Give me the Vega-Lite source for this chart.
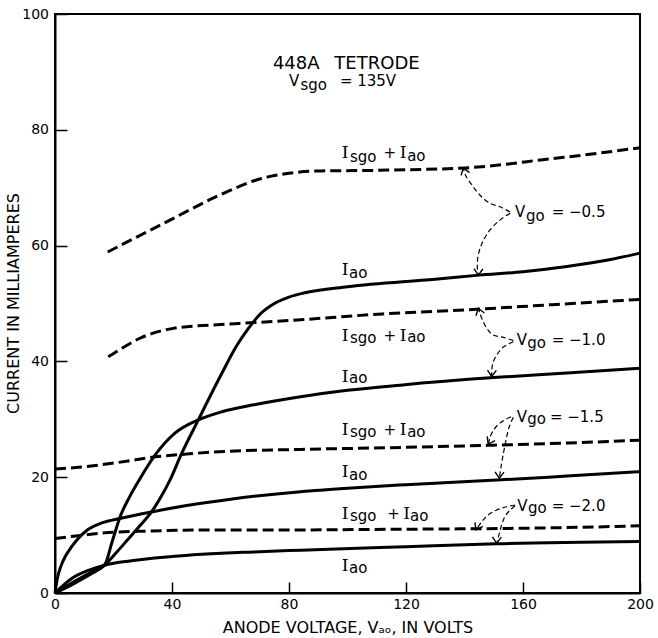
{
  "$schema": "https://vega.github.io/schema/vega-lite/v6.json",
  "width": 585,
  "height": 579,
  "autosize": "none",
  "padding": {"left": 55, "top": 14, "right": 18, "bottom": 45},
  "background": "white",
  "config": {"view": {"stroke": "black", "strokeWidth": 2}, "font": "DejaVu Sans"},
  "datasets": {
    "curves": [
      {"g": "-0.5", "k": "I", "v": 0, "i": 0}, {"g": "-0.5", "k": "I", "v": 6, "i": 1.5}, {"g": "-0.5", "k": "I", "v": 12, "i": 3.2}, {"g": "-0.5", "k": "I", "v": 17, "i": 4.8}, {"g": "-0.5", "k": "I", "v": 21, "i": 7.0}, {"g": "-0.5", "k": "I", "v": 25, "i": 9.3}, {"g": "-0.5", "k": "I", "v": 29, "i": 11.6}, {"g": "-0.5", "k": "I", "v": 33, "i": 14.0}, {"g": "-0.5", "k": "I", "v": 36, "i": 16.4}, {"g": "-0.5", "k": "I", "v": 39.3, "i": 19.5}, {"g": "-0.5", "k": "I", "v": 43.3, "i": 24.1}, {"g": "-0.5", "k": "I", "v": 49, "i": 29.9}, {"g": "-0.5", "k": "I", "v": 57, "i": 37.9}, {"g": "-0.5", "k": "I", "v": 62, "i": 42.6}, {"g": "-0.5", "k": "I", "v": 66, "i": 45.6}, {"g": "-0.5", "k": "I", "v": 70, "i": 48.1}, {"g": "-0.5", "k": "I", "v": 75, "i": 50.0}, {"g": "-0.5", "k": "I", "v": 80, "i": 51.1}, {"g": "-0.5", "k": "I", "v": 85, "i": 51.8}, {"g": "-0.5", "k": "I", "v": 100, "i": 52.9}, {"g": "-0.5", "k": "I", "v": 130, "i": 54.2}, {"g": "-0.5", "k": "I", "v": 145, "i": 54.9}, {"g": "-0.5", "k": "I", "v": 160, "i": 55.5}, {"g": "-0.5", "k": "I", "v": 175, "i": 56.4}, {"g": "-0.5", "k": "I", "v": 190, "i": 57.6}, {"g": "-0.5", "k": "I", "v": 200, "i": 58.7},
      {"g": "-1.0", "k": "I", "v": 0, "i": 0}, {"g": "-1.0", "k": "I", "v": 6, "i": 1.8}, {"g": "-1.0", "k": "I", "v": 12, "i": 3.5}, {"g": "-1.0", "k": "I", "v": 17, "i": 4.9}, {"g": "-1.0", "k": "I", "v": 19.5, "i": 8.8}, {"g": "-1.0", "k": "I", "v": 22.2, "i": 13.1}, {"g": "-1.0", "k": "I", "v": 25.5, "i": 16.6}, {"g": "-1.0", "k": "I", "v": 29, "i": 19.7}, {"g": "-1.0", "k": "I", "v": 34.2, "i": 23.8}, {"g": "-1.0", "k": "I", "v": 41, "i": 27.6}, {"g": "-1.0", "k": "I", "v": 49, "i": 29.9}, {"g": "-1.0", "k": "I", "v": 57, "i": 31.3}, {"g": "-1.0", "k": "I", "v": 68, "i": 32.5}, {"g": "-1.0", "k": "I", "v": 84, "i": 33.9}, {"g": "-1.0", "k": "I", "v": 100, "i": 35.0}, {"g": "-1.0", "k": "I", "v": 118, "i": 35.9}, {"g": "-1.0", "k": "I", "v": 150, "i": 37.2}, {"g": "-1.0", "k": "I", "v": 175, "i": 38.0}, {"g": "-1.0", "k": "I", "v": 200, "i": 38.8},
      {"g": "-1.5", "k": "I", "v": 0, "i": 0}, {"g": "-1.5", "k": "I", "v": 0.8, "i": 2.5}, {"g": "-1.5", "k": "I", "v": 2, "i": 4.6}, {"g": "-1.5", "k": "I", "v": 3.5, "i": 6.3}, {"g": "-1.5", "k": "I", "v": 5.7, "i": 8.0}, {"g": "-1.5", "k": "I", "v": 8.5, "i": 9.7}, {"g": "-1.5", "k": "I", "v": 11.4, "i": 11.0}, {"g": "-1.5", "k": "I", "v": 16, "i": 12.1}, {"g": "-1.5", "k": "I", "v": 22.5, "i": 12.9}, {"g": "-1.5", "k": "I", "v": 33, "i": 14.0}, {"g": "-1.5", "k": "I", "v": 45, "i": 15.1}, {"g": "-1.5", "k": "I", "v": 60, "i": 16.2}, {"g": "-1.5", "k": "I", "v": 84, "i": 17.5}, {"g": "-1.5", "k": "I", "v": 100, "i": 18.1}, {"g": "-1.5", "k": "I", "v": 120, "i": 18.7}, {"g": "-1.5", "k": "I", "v": 151, "i": 19.5}, {"g": "-1.5", "k": "I", "v": 175, "i": 20.2}, {"g": "-1.5", "k": "I", "v": 200, "i": 20.95},
      {"g": "-2.0", "k": "I", "v": 0, "i": 0}, {"g": "-2.0", "k": "I", "v": 3, "i": 1.4}, {"g": "-2.0", "k": "I", "v": 5.7, "i": 2.5}, {"g": "-2.0", "k": "I", "v": 11.4, "i": 3.9}, {"g": "-2.0", "k": "I", "v": 17, "i": 4.8}, {"g": "-2.0", "k": "I", "v": 25, "i": 5.5}, {"g": "-2.0", "k": "I", "v": 40, "i": 6.3}, {"g": "-2.0", "k": "I", "v": 68, "i": 7.1}, {"g": "-2.0", "k": "I", "v": 84, "i": 7.4}, {"g": "-2.0", "k": "I", "v": 120, "i": 8.0}, {"g": "-2.0", "k": "I", "v": 151, "i": 8.5}, {"g": "-2.0", "k": "I", "v": 200, "i": 8.9},
      {"g": "-0.5", "k": "S", "v": 18, "i": 58.9}, {"g": "-0.5", "k": "S", "v": 30, "i": 62.0}, {"g": "-0.5", "k": "S", "v": 42, "i": 65.1}, {"g": "-0.5", "k": "S", "v": 54, "i": 68.2}, {"g": "-0.5", "k": "S", "v": 62, "i": 70.0}, {"g": "-0.5", "k": "S", "v": 68, "i": 71.2}, {"g": "-0.5", "k": "S", "v": 74, "i": 72.0}, {"g": "-0.5", "k": "S", "v": 80, "i": 72.5}, {"g": "-0.5", "k": "S", "v": 91, "i": 72.9}, {"g": "-0.5", "k": "S", "v": 103, "i": 72.95}, {"g": "-0.5", "k": "S", "v": 120, "i": 73.1}, {"g": "-0.5", "k": "S", "v": 140, "i": 73.4}, {"g": "-0.5", "k": "S", "v": 155, "i": 74.1}, {"g": "-0.5", "k": "S", "v": 166, "i": 74.8}, {"g": "-0.5", "k": "S", "v": 180, "i": 75.6}, {"g": "-0.5", "k": "S", "v": 200, "i": 76.9},
      {"g": "-1.0", "k": "S", "v": 18.2, "i": 40.8}, {"g": "-1.0", "k": "S", "v": 23, "i": 42.3}, {"g": "-1.0", "k": "S", "v": 29, "i": 44.0}, {"g": "-1.0", "k": "S", "v": 35, "i": 45.1}, {"g": "-1.0", "k": "S", "v": 40.4, "i": 45.7}, {"g": "-1.0", "k": "S", "v": 54, "i": 46.3}, {"g": "-1.0", "k": "S", "v": 68, "i": 46.7}, {"g": "-1.0", "k": "S", "v": 84, "i": 47.2}, {"g": "-1.0", "k": "S", "v": 112, "i": 48.2}, {"g": "-1.0", "k": "S", "v": 144, "i": 49.0}, {"g": "-1.0", "k": "S", "v": 170, "i": 49.8}, {"g": "-1.0", "k": "S", "v": 200, "i": 50.7},
      {"g": "-1.5", "k": "S", "v": 0, "i": 21.4}, {"g": "-1.5", "k": "S", "v": 8, "i": 21.7}, {"g": "-1.5", "k": "S", "v": 15, "i": 22.1}, {"g": "-1.5", "k": "S", "v": 25, "i": 22.8}, {"g": "-1.5", "k": "S", "v": 32.5, "i": 23.4}, {"g": "-1.5", "k": "S", "v": 45, "i": 24.0}, {"g": "-1.5", "k": "S", "v": 56, "i": 24.4}, {"g": "-1.5", "k": "S", "v": 84, "i": 24.8}, {"g": "-1.5", "k": "S", "v": 115, "i": 25.1}, {"g": "-1.5", "k": "S", "v": 148, "i": 25.5}, {"g": "-1.5", "k": "S", "v": 175, "i": 25.9}, {"g": "-1.5", "k": "S", "v": 200, "i": 26.4},
      {"g": "-2.0", "k": "S", "v": 0, "i": 9.4}, {"g": "-2.0", "k": "S", "v": 8, "i": 9.9}, {"g": "-2.0", "k": "S", "v": 15, "i": 10.3}, {"g": "-2.0", "k": "S", "v": 32, "i": 10.7}, {"g": "-2.0", "k": "S", "v": 56, "i": 10.9}, {"g": "-2.0", "k": "S", "v": 84, "i": 10.9}, {"g": "-2.0", "k": "S", "v": 115, "i": 11.0}, {"g": "-2.0", "k": "S", "v": 144, "i": 11.1}, {"g": "-2.0", "k": "S", "v": 175, "i": 11.3}, {"g": "-2.0", "k": "S", "v": 200, "i": 11.6}
    ],
    "arrows": [
      {"a": "05u", "o": 0, "v": 155.6, "i": 65.8}, {"a": "05u", "o": 1, "v": 152.1, "i": 66.7}, {"a": "05u", "o": 2, "v": 148.7, "i": 67.3}, {"a": "05u", "o": 3, "v": 145.3, "i": 68.7}, {"a": "05u", "o": 4, "v": 142.5, "i": 70.5}, {"a": "05u", "o": 5, "v": 140.3, "i": 72.2}, {"a": "05u", "o": 6, "v": 139.6, "i": 73.4},
      {"a": "05d", "o": 0, "v": 155.6, "i": 65.6}, {"a": "05d", "o": 1, "v": 152.1, "i": 64.4}, {"a": "05d", "o": 2, "v": 148.7, "i": 62.7}, {"a": "05d", "o": 3, "v": 146.0, "i": 60.4}, {"a": "05d", "o": 4, "v": 144.6, "i": 58.1}, {"a": "05d", "o": 5, "v": 144.4, "i": 56.1}, {"a": "05d", "o": 6, "v": 144.7, "i": 54.9},
      {"a": "10u", "o": 0, "v": 156.7, "i": 43.58}, {"a": "10u", "o": 1, "v": 153.3, "i": 44.16}, {"a": "10u", "o": 2, "v": 149.8, "i": 44.56}, {"a": "10u", "o": 3, "v": 147.6, "i": 45.72}, {"a": "10u", "o": 4, "v": 145.9, "i": 47.44}, {"a": "10u", "o": 5, "v": 145.1, "i": 48.58}, {"a": "10u", "o": 6, "v": 144.7, "i": 49.17},
      {"a": "10d", "o": 0, "v": 156.7, "i": 43.4}, {"a": "10d", "o": 1, "v": 153.3, "i": 42.5}, {"a": "10d", "o": 2, "v": 151.0, "i": 41.1}, {"a": "10d", "o": 3, "v": 149.7, "i": 39.7}, {"a": "10d", "o": 4, "v": 149.3, "i": 38.3}, {"a": "10d", "o": 5, "v": 149.3, "i": 37.39},
      {"a": "15l", "o": 0, "v": 155.9, "i": 30.45}, {"a": "15l", "o": 1, "v": 153.3, "i": 29.76}, {"a": "15l", "o": 2, "v": 151.0, "i": 28.84}, {"a": "15l", "o": 3, "v": 149.3, "i": 27.58}, {"a": "15l", "o": 4, "v": 148.5, "i": 26.42}, {"a": "15l", "o": 5, "v": 148.1, "i": 25.73},
      {"a": "15r", "o": 0, "v": 156.7, "i": 30.35}, {"a": "15r", "o": 1, "v": 155.3, "i": 28.72}, {"a": "15r", "o": 2, "v": 154.2, "i": 26.42}, {"a": "15r", "o": 3, "v": 153.3, "i": 24.13}, {"a": "15r", "o": 4, "v": 152.5, "i": 21.81}, {"a": "15r", "o": 5, "v": 151.9, "i": 19.81},
      {"a": "20l", "o": 0, "v": 157.3, "i": 15.2}, {"a": "20l", "o": 1, "v": 154.4, "i": 14.9}, {"a": "20l", "o": 2, "v": 151.0, "i": 14.33}, {"a": "20l", "o": 3, "v": 148.1, "i": 13.47}, {"a": "20l", "o": 4, "v": 145.9, "i": 12.31}, {"a": "20l", "o": 5, "v": 143.9, "i": 10.88},
      {"a": "20r", "o": 0, "v": 157.3, "i": 15.08}, {"a": "20r", "o": 1, "v": 155.6, "i": 14.33}, {"a": "20r", "o": 2, "v": 153.8, "i": 13.18}, {"a": "20r", "o": 3, "v": 152.7, "i": 11.74}, {"a": "20r", "o": 4, "v": 151.9, "i": 10.31}, {"a": "20r", "o": 5, "v": 151.0, "i": 8.58}
    ],
    "heads": [
      {"d": "up", "v": 139.6, "i": 73.4}, {"d": "down", "v": 144.7, "i": 54.9},
      {"d": "up", "v": 144.7, "i": 49.17}, {"d": "down", "v": 149.3, "i": 37.39},
      {"d": "downleft", "v": 148.1, "i": 25.73}, {"d": "down", "v": 151.9, "i": 19.81},
      {"d": "downleft", "v": 143.9, "i": 10.88}, {"d": "down", "v": 151.0, "i": 8.58}
    ],
    "labels": [
      {"f": "big", "t": "448A", "v": 74.5, "i": 90.45}, {"f": "big", "t": "TETRODE", "v": 95.5, "i": 90.45},
      {"f": "sans", "t": "V", "v": 80.0, "i": 87.5}, {"f": "sans", "t": "sgo", "v": 83.9, "i": 86.9}, {"f": "sans", "t": "= 135V", "v": 97.4, "i": 87.5},
      {"f": "serif", "t": "I", "v": 98.0, "i": 75.08}, {"f": "sans", "t": "sgo", "v": 100.85, "i": 74.49}, {"f": "sans", "t": "+", "v": 112.3, "i": 75.08}, {"f": "serif", "t": "I", "v": 117.9, "i": 75.08}, {"f": "sans", "t": "ao", "v": 120.4, "i": 74.6},
      {"f": "serif", "t": "I", "v": 98.0, "i": 54.92}, {"f": "sans", "t": "ao", "v": 100.5, "i": 54.46},
      {"f": "serif", "t": "I", "v": 98.0, "i": 43.58}, {"f": "sans", "t": "sgo", "v": 100.85, "i": 43.23}, {"f": "sans", "t": "+", "v": 112.3, "i": 43.58}, {"f": "serif", "t": "I", "v": 117.9, "i": 43.58}, {"f": "sans", "t": "ao", "v": 120.4, "i": 43.35},
      {"f": "serif", "t": "I", "v": 98.0, "i": 36.49}, {"f": "sans", "t": "ao", "v": 100.5, "i": 36.22},
      {"f": "serif", "t": "I", "v": 98.0, "i": 27.29}, {"f": "sans", "t": "sgo", "v": 100.85, "i": 27.0}, {"f": "sans", "t": "+", "v": 112.3, "i": 27.29}, {"f": "serif", "t": "I", "v": 117.9, "i": 27.29}, {"f": "sans", "t": "ao", "v": 120.4, "i": 27.0},
      {"f": "serif", "t": "I", "v": 98.0, "i": 19.98}, {"f": "sans", "t": "ao", "v": 100.5, "i": 19.52},
      {"f": "serif", "t": "I", "v": 98.0, "i": 12.73}, {"f": "sans", "t": "sgo", "v": 100.85, "i": 12.49}, {"f": "sans", "t": "+", "v": 113.6, "i": 12.73}, {"f": "serif", "t": "I", "v": 119.08, "i": 12.73}, {"f": "sans", "t": "ao", "v": 121.4, "i": 12.44},
      {"f": "serif", "t": "I", "v": 98.0, "i": 3.85}, {"f": "sans", "t": "ao", "v": 100.5, "i": 3.54},
      {"f": "sans", "t": "V", "v": 157.26, "i": 64.89}, {"f": "sans", "t": "go", "v": 161.03, "i": 64.25}, {"f": "sans", "t": "= −0.5", "v": 169.8, "i": 64.89},
      {"f": "sans", "t": "V", "v": 157.85, "i": 42.83}, {"f": "sans", "t": "go", "v": 161.47, "i": 42.37}, {"f": "sans", "t": "= −1.0", "v": 169.8, "i": 42.83},
      {"f": "sans", "t": "V", "v": 157.85, "i": 29.59}, {"f": "sans", "t": "go", "v": 161.47, "i": 29.19}, {"f": "sans", "t": "= −1.5", "v": 169.2, "i": 29.59},
      {"f": "sans", "t": "V", "v": 158.05, "i": 14.21}, {"f": "sans", "t": "go", "v": 161.7, "i": 13.9}, {"f": "sans", "t": "= −2.0", "v": 169.8, "i": 14.21}
    ]
  },
  "encoding": {
    "x": {
      "field": "v", "type": "quantitative",
      "scale": {"domain": [0, 200], "nice": false, "zero": false},
      "axis": {
        "title": "ANODE VOLTAGE, Vₐₒ, IN VOLTS",
        "values": [0, 40, 80, 120, 160, 200],
        "grid": false, "domainColor": "black", "domainWidth": 2,
        "tickColor": "black", "tickWidth": 1.5, "tickSize": -11,
        "labelFont": "DejaVu Sans", "labelFontSize": 14, "labelColor": "black", "labelPadding": 15, "labelFlush": false,
        "titleFont": "DejaVu Sans", "titleFontSize": 16, "titleFontWeight": "normal", "titleColor": "black",
        "titleY": 39, "titleBaseline": "alphabetic"
      }
    },
    "y": {
      "field": "i", "type": "quantitative",
      "scale": {"domain": [0, 100], "nice": false},
      "axis": {
        "title": "CURRENT IN MILLIAMPERES",
        "values": [0, 20, 40, 60, 80, 100],
        "grid": false, "domainColor": "black", "domainWidth": 2,
        "tickColor": "black", "tickWidth": 1.5, "tickSize": -12,
        "labelFont": "DejaVu Sans", "labelFontSize": 14, "labelColor": "black", "labelPadding": 18.5, "labelFlush": false,
        "titleFont": "DejaVu Sans", "titleFontSize": 16, "titleFontWeight": "normal", "titleColor": "black",
        "titleX": -42, "titleY": 289, "titleAlign": "center", "titleBaseline": "middle", "titleAngle": -90
      }
    }
  },
  "layer": [
    {
      "data": {"name": "curves"},
      "transform": [{"filter": "datum.k == 'I'"}],
      "mark": {"type": "line", "interpolate": "monotone", "color": "black", "strokeWidth": 3},
      "encoding": {"detail": {"field": "g"}}
    },
    {
      "data": {"name": "curves"},
      "transform": [{"filter": "datum.k == 'S'"}],
      "mark": {"type": "line", "interpolate": "monotone", "color": "black", "strokeWidth": 3, "strokeDash": [11, 5]},
      "encoding": {"detail": {"field": "g"}}
    },
    {
      "data": {"name": "arrows"},
      "mark": {"type": "line", "interpolate": "catmull-rom", "color": "black", "strokeWidth": 1.2, "strokeDash": [5, 3]},
      "encoding": {"detail": {"field": "a"}, "order": {"field": "o", "type": "quantitative"}}
    },
    {
      "data": {"name": "heads"},
      "transform": [{"filter": "datum.d == 'up'"}],
      "mark": {"type": "point", "shape": "M-0.7,-1L0,0L0.7,-1", "size": 160, "filled": false, "stroke": "black", "strokeWidth": 1.4, "angle": 162, "opacity": 1}
    },
    {
      "data": {"name": "heads"},
      "transform": [{"filter": "datum.d == 'down'"}],
      "mark": {"type": "point", "shape": "M-0.7,-1L0,0L0.7,-1", "size": 160, "filled": false, "stroke": "black", "strokeWidth": 1.4, "angle": 2, "opacity": 1}
    },
    {
      "data": {"name": "heads"},
      "transform": [{"filter": "datum.d == 'downleft'"}],
      "mark": {"type": "point", "shape": "M-0.7,-1L0,0L0.7,-1", "size": 160, "filled": false, "stroke": "black", "strokeWidth": 1.4, "angle": 28, "opacity": 1}
    },
    {
      "data": {"name": "labels"},
      "transform": [{"filter": "datum.f == 'sans'"}],
      "mark": {"type": "text", "align": "left", "baseline": "alphabetic", "font": "DejaVu Sans", "fontSize": 15, "color": "black"},
      "encoding": {"text": {"field": "t"}}
    },
    {
      "data": {"name": "labels"},
      "transform": [{"filter": "datum.f == 'serif'"}],
      "mark": {"type": "text", "align": "left", "baseline": "alphabetic", "font": "DejaVu Serif", "fontSize": 17, "color": "black"},
      "encoding": {"text": {"field": "t"}}
    },
    {
      "data": {"name": "labels"},
      "transform": [{"filter": "datum.f == 'big'"}],
      "mark": {"type": "text", "align": "left", "baseline": "alphabetic", "font": "DejaVu Sans", "fontSize": 18, "color": "black"},
      "encoding": {"text": {"field": "t"}}
    }
  ]
}
